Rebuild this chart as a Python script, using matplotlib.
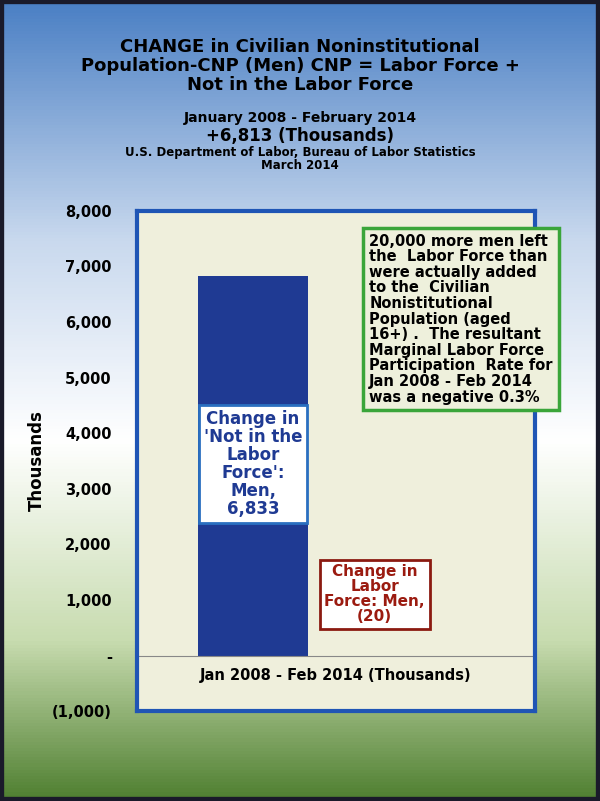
import numpy as np
import matplotlib.pyplot as plt
from matplotlib.colors import LinearSegmentedColormap

categories = ["Not in the Labor Force", "Labor Force"]
values = [6833, -20]
yticks = [-1000, 0, 1000, 2000, 3000, 4000, 5000, 6000, 7000, 8000]
ytick_labels = ["(1,000)", "-", "1,000", "2,000", "3,000", "4,000", "5,000", "6,000", "7,000", "8,000"]

fig = plt.figure(figsize=(6.0, 8.01), dpi=100)

# background gradient: blue -> white -> green
bg = fig.add_axes([0, 0, 1, 1], zorder=0)
cmap = LinearSegmentedColormap.from_list("bg", [(0, "#4a7fc4"), (0.3, "#c9d9ee"), (0.55, "#ffffff"),
                                               (0.8, "#c8dcb0"), (1, "#4f7f30")])
grad = np.linspace(0, 1, 256).reshape(-1, 1)
bg.imshow(grad, aspect="auto", cmap=cmap, extent=[0, 1, 0, 1], origin="upper")
bg.set_xlim(0, 1); bg.set_ylim(0, 1)
bg.axis("off")
bg.add_patch(plt.Rectangle((0, 0), 1, 1, fill=False, lw=6, ec="#1a1a2a", transform=bg.transAxes))

fig.text(0.5, 0.952, "CHANGE in Civilian Noninstitutional\nPopulation-CNP (Men) CNP = Labor Force +\nNot in the Labor Force",
         ha="center", va="top", fontsize=13, fontweight="bold", linespacing=1.05)
fig.text(0.5, 0.862, "January 2008 - February 2014", ha="center", va="top", fontsize=10, fontweight="bold")
fig.text(0.5, 0.842, "+6,813 (Thousands)", ha="center", va="top", fontsize=12, fontweight="bold")
fig.text(0.5, 0.818, "U.S. Department of Labor, Bureau of Labor Statistics\nMarch 2014",
         ha="center", va="top", fontsize=8.5, fontweight="bold", linespacing=1.0)

ax = fig.add_axes([0.228, 0.112, 0.664, 0.625], zorder=1)
ax.set_facecolor("#efefdc")
x = np.arange(len(categories))
ax.bar(x, values, width=1.0, color="#1f3a93")
ax.set_xlim(-1.05, 2.55)
ax.set_ylim(-1000, 8000)
ax.set_yticks(yticks)
ax.set_yticklabels(ytick_labels, fontsize=10.5, fontweight="bold")
ax.tick_params(axis="y", length=0, pad=18)
ax.set_xticks([])
for s in ax.spines.values():
    s.set_color("#1f55b5")
    s.set_linewidth(3)
ax.axhline(0, color="#888888", lw=0.8)
ax.set_ylabel("Thousands", fontsize=12, fontweight="bold", labelpad=4)
ax.text(0.5, 1.0 / 9 - 0.025, "Jan 2008 - Feb 2014 (Thousands)", transform=ax.transAxes,
        ha="center", va="top", fontsize=10.5, fontweight="bold")

ax.text(x[0], 3450, "Change in\n'Not in the\nLabor\nForce':\nMen,\n6,833", ha="center", va="center",
        fontsize=12, fontweight="bold", color="#1f3a93", linespacing=1.0,
        bbox=dict(boxstyle="square,pad=0.3", fc="white", ec="#2a6fc0", lw=2))
ax.text(x[1] + 0.1, 1100, "Change in\nLabor\nForce: Men,\n(20)", ha="center", va="center",
        fontsize=11, fontweight="bold", color="#9b1b10", linespacing=1.0,
        bbox=dict(boxstyle="square,pad=0.3", fc="white", ec="#8b1a10", lw=2))
ax.text(1.05, 6050, "20,000 more men left\nthe  Labor Force than\nwere actually added\nto the  Civilian\nNonistitutional\nPopulation (aged\n16+) .  The resultant\nMarginal Labor Force\nParticipation  Rate for\nJan 2008 - Feb 2014\nwas a negative 0.3%",
        ha="left", va="center", fontsize=10.5, fontweight="bold", linespacing=1.05,
        bbox=dict(boxstyle="square,pad=0.4", fc="#eef0dc", ec="#3aa53a", lw=2.5))

fig.savefig("out.png", dpi=100)
